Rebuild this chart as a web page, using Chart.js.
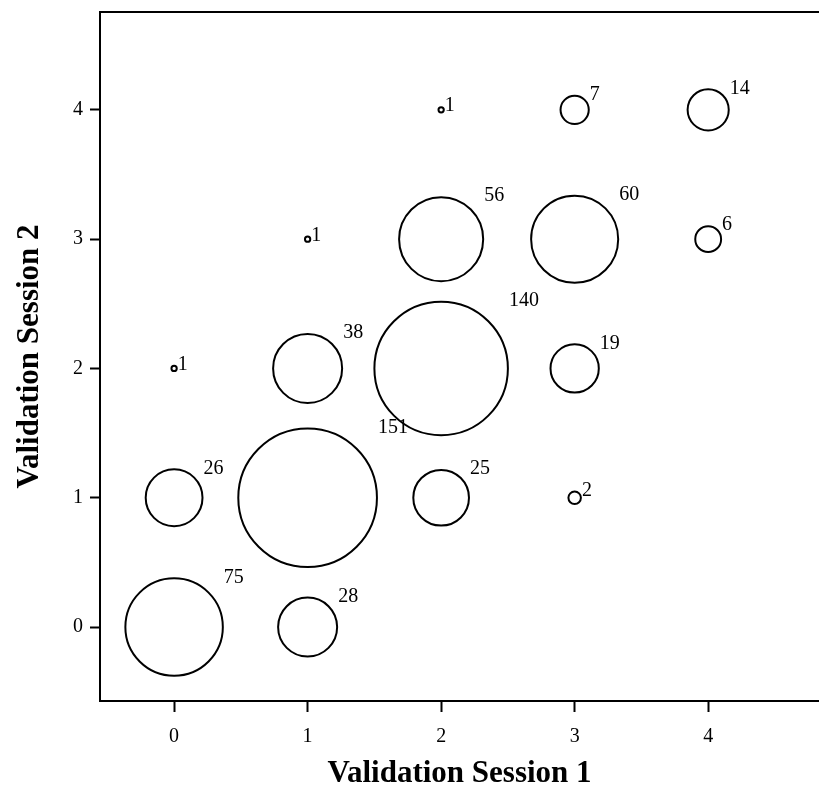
<!DOCTYPE html>
<html>
<head>
<meta charset="utf-8">
<script src="https://cdn.jsdelivr.net/npm/chart.js@4.4.1/dist/chart.umd.min.js"></script>
<style>
  html, body { margin: 0; padding: 0; background: #fff; }
  #wrap { width: 819px; height: 790px; }
</style>
</head>
<body>
<div id="wrap"><canvas id="bubbles"></canvas></div>
<script>
// session 1 score, session 2 score, number of cases
const session1 = [0, 1, 0, 1, 2, 3, 0, 1, 2, 3, 1, 2, 3, 4, 2, 3, 4];
const session2 = [0, 0, 1, 1, 1, 1, 2, 2, 2, 2, 3, 3, 3, 3, 4, 4, 4];
const counts   = [75, 28, 26, 151, 25, 2, 1, 38, 140, 19, 1, 56, 60, 6, 1, 7, 14];
const tickValues = [0, 1, 2, 3, 4];

const serif = "'Liberation Serif', 'DejaVu Serif', serif";

// bubbles may run past the box, don't let them shrink the plot area
Chart.registry.getController("bubble").prototype.getMaxOverflow = () => 0;

// bubble area follows the count
function bubbleR(n) {
  return Math.sqrt(Math.max(32 * n - 25, 4));
}

const countLabels = {
  id: "countLabels",
  afterDatasetsDraw(chart) {
    const { ctx } = chart;
    const meta = chart.getDatasetMeta(0);
    ctx.save();
    ctx.fillStyle = "#000";
    ctx.font = "20px " + serif;
    ctx.textAlign = "left";
    ctx.textBaseline = "middle";
    meta.data.forEach((el, i) => {
      const off = el.options.radius + 1;
      ctx.fillText(String(counts[i]), el.x + off, el.y - off);
    });
    ctx.restore();
  },
};

const topBorder = {
  id: "topBorder",
  afterDraw(chart) {
    const { ctx, chartArea } = chart;
    ctx.save();
    ctx.strokeStyle = "#000";
    ctx.lineWidth = 2;
    ctx.beginPath();
    ctx.moveTo(chartArea.left - 1, chartArea.top);
    ctx.lineTo(chartArea.right, chartArea.top);
    ctx.stroke();
    ctx.restore();
  },
};

new Chart(document.getElementById("bubbles"), {
  type: "bubble",
  data: {
    datasets: [
      {
        data: session1.map((x, i) => ({ x: x, y: session2[i] })),
        radius: (c) => bubbleR(counts[c.dataIndex]),
        backgroundColor: "rgba(255,255,255,0)",
        borderColor: "#000",
        borderWidth: 2,
        clip: false,
      },
    ],
  },
  options: {
    responsive: true,
    maintainAspectRatio: false,
    animation: false,
    events: [],
    layout: { padding: { top: 12, right: 0, left: 0, bottom: 0 } },
    plugins: { legend: { display: false }, tooltip: { enabled: false } },
    scales: {
      x: {
        type: "linear",
        min: -0.555,
        max: 4.83,
        afterBuildTicks: (s) => { s.ticks = tickValues.map((v) => ({ value: v })); },
        afterFit: (s) => { s.height = 89; s.paddingLeft = 0; s.paddingRight = 0; },
        grid: { drawOnChartArea: false, drawTicks: true, tickLength: 11, tickColor: "#000", tickWidth: 2 },
        border: { display: true, color: "#000", width: 2 },
        ticks: { color: "#000", font: { family: serif, size: 20 }, padding: 13 },
        title: {
          display: true,
          text: "Validation Session 1",
          color: "#000",
          font: { family: serif, size: 31, weight: "bold", lineHeight: 1.0 },
          padding: { top: 0, bottom: 1 },
        },
      },
      y: {
        type: "linear",
        min: -0.572,
        max: 4.757,
        afterBuildTicks: (s) => { s.ticks = tickValues.map((v) => ({ value: v })); },
        afterFit: (s) => { s.width = 100; s.paddingTop = 0; s.paddingBottom = 0; },
        grid: { drawOnChartArea: false, drawTicks: true, tickLength: 10, tickColor: "#000", tickWidth: 2 },
        border: { display: true, color: "#000", width: 2 },
        ticks: { color: "#000", font: { family: serif, size: 20 }, padding: 7 },
        title: {
          display: true,
          text: "Validation Session 2",
          color: "#000",
          font: { family: serif, size: 31, weight: "bold", lineHeight: 1.0 },
          padding: { top: 14, bottom: 0 },
        },
      },
    },
  },
  plugins: [countLabels, topBorder],
});
</script>
</body>
</html>
